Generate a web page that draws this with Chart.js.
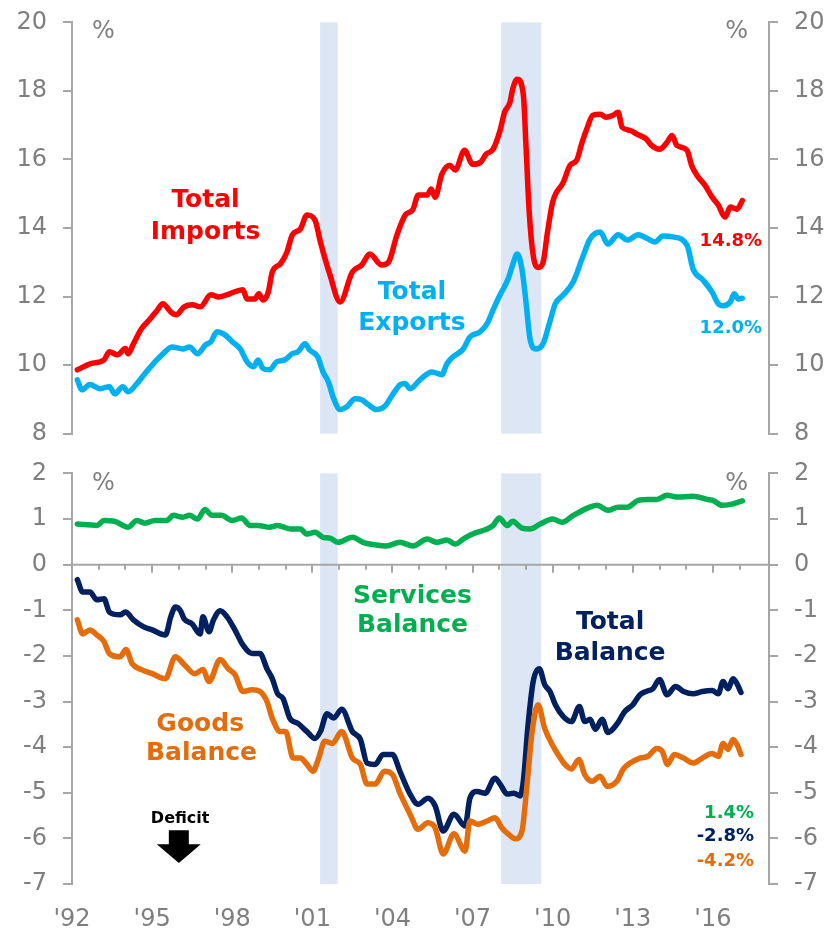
<!DOCTYPE html>
<html>
<head>
<meta charset="utf-8">
<script src="https://cdn.jsdelivr.net/npm/chart.js@4.4.0/dist/chart.umd.min.js"></script>
<style>
  html, body { margin: 0; padding: 0; background: #fff; overflow: hidden; }
  #wrap { position: relative; width: 827px; height: 928px; overflow: hidden; }
  #topChart { position: absolute; left: 0; top: -8px; }
  #botChart { position: absolute; left: 0; top: 443px; }
</style>
</head>
<body>
<div id="wrap">
  <canvas id="topChart" width="827" height="472"></canvas>
  <canvas id="botChart" width="827" height="486"></canvas>
</div>
<script>
// share of GDP, %, [year, value]
const imports = [[1992.2,9.86],[1992.7,10.04],[1993.2,10.15],[1993.4,10.39],[1993.7,10.3],[1994.0,10.48],[1994.1,10.33],[1994.3,10.62],[1994.6,11.06],[1994.9,11.32],[1995.2,11.61],[1995.4,11.79],[1995.7,11.55],[1995.9,11.47],[1996.2,11.7],[1996.5,11.76],[1996.8,11.7],[1997.2,12.05],[1997.5,11.99],[1997.9,12.08],[1998.4,12.2],[1998.55,11.93],[1998.85,11.93],[1999.0,12.08],[1999.15,11.9],[1999.35,12.13],[1999.5,12.72],[1999.8,12.95],[2000.05,13.3],[2000.25,13.8],[2000.55,13.97],[2000.8,14.38],[2001.1,14.23],[2001.3,13.6],[2001.66,12.63],[2002.04,11.84],[2002.5,12.72],[2002.85,12.92],[2003.15,13.24],[2003.6,12.92],[2003.85,13.0],[2004.17,13.8],[2004.5,14.4],[2004.75,14.52],[2004.97,14.96],[2005.3,14.96],[2005.45,15.14],[2005.6,14.9],[2005.85,15.57],[2006.15,15.83],[2006.35,15.69],[2006.7,16.27],[2007.0,15.86],[2007.3,15.92],[2007.5,16.15],[2007.77,16.3],[2008.03,16.85],[2008.2,17.38],[2008.4,17.67],[2008.5,18.05],[2008.67,18.34],[2008.9,17.9],[2009.0,16.4],[2009.12,14.47],[2009.27,13.2],[2009.45,12.85],[2009.64,13.0],[2009.8,13.85],[2010.0,14.76],[2010.4,15.34],[2010.65,15.83],[2010.9,15.98],[2011.1,16.5],[2011.3,16.94],[2011.5,17.29],[2011.78,17.32],[2012.0,17.23],[2012.26,17.29],[2012.45,17.38],[2012.6,16.94],[2012.9,16.85],[2013.15,16.74],[2013.5,16.6],[2013.7,16.41],[2014.0,16.3],[2014.28,16.5],[2014.47,16.7],[2014.65,16.41],[2015.03,16.27],[2015.2,15.83],[2015.4,15.54],[2015.7,15.25],[2015.97,14.9],[2016.2,14.67],[2016.46,14.32],[2016.65,14.61],[2016.9,14.55],[2017.1,14.8]];
const exports_ = [[1992.2,9.57],[1992.37,9.28],[1992.67,9.43],[1993.05,9.31],[1993.4,9.37],[1993.6,9.16],[1993.9,9.37],[1994.1,9.22],[1994.43,9.46],[1994.73,9.75],[1995.0,10.0],[1995.37,10.3],[1995.74,10.53],[1996.15,10.47],[1996.4,10.53],[1996.7,10.33],[1997.0,10.59],[1997.2,10.68],[1997.43,10.97],[1997.73,10.88],[1998.0,10.68],[1998.3,10.47],[1998.55,10.1],[1998.8,9.95],[1998.97,10.15],[1999.15,9.9],[1999.4,9.86],[1999.67,10.1],[1999.97,10.15],[2000.24,10.33],[2000.46,10.39],[2000.73,10.62],[2000.9,10.44],[2001.2,10.24],[2001.4,9.8],[2001.6,9.51],[2001.8,9.02],[2002.04,8.7],[2002.3,8.79],[2002.6,9.02],[2002.85,8.99],[2003.1,8.84],[2003.4,8.7],[2003.7,8.79],[2004.0,9.13],[2004.3,9.43],[2004.47,9.46],[2004.66,9.31],[2005.03,9.57],[2005.48,9.8],[2005.85,9.72],[2006.04,10.04],[2006.27,10.24],[2006.65,10.47],[2006.9,10.82],[2007.28,10.97],[2007.54,11.2],[2007.77,11.61],[2008.03,12.05],[2008.33,12.51],[2008.5,12.92],[2008.67,13.24],[2008.85,12.8],[2009.0,11.84],[2009.15,10.77],[2009.38,10.47],[2009.64,10.62],[2009.87,11.2],[2010.1,11.79],[2010.4,12.05],[2010.77,12.43],[2011.1,13.1],[2011.4,13.68],[2011.78,13.88],[2012.07,13.53],[2012.45,13.8],[2012.8,13.65],[2013.2,13.8],[2013.5,13.71],[2013.83,13.59],[2014.13,13.77],[2014.5,13.74],[2015.03,13.5],[2015.26,12.8],[2015.63,12.48],[2015.97,12.13],[2016.2,11.79],[2016.38,11.73],[2016.65,11.84],[2016.8,12.08],[2016.95,11.93],[2017.1,11.95]];
const services = [[1992.2,0.89],[1992.93,0.86],[1993.2,0.97],[1993.6,0.95],[1994.1,0.82],[1994.43,0.97],[1994.73,0.91],[1995.1,0.97],[1995.55,0.97],[1995.8,1.08],[1996.15,1.04],[1996.4,1.08],[1996.7,1.0],[1996.98,1.21],[1997.24,1.08],[1997.6,1.08],[1998.0,0.97],[1998.35,1.02],[1998.67,0.86],[1998.97,0.86],[1999.4,0.82],[1999.7,0.86],[2000.2,0.78],[2000.55,0.78],[2000.8,0.67],[2001.1,0.71],[2001.4,0.6],[2001.66,0.58],[2001.97,0.49],[2002.5,0.6],[2002.9,0.49],[2003.4,0.43],[2003.77,0.41],[2004.28,0.49],[2004.77,0.41],[2005.3,0.56],[2005.67,0.49],[2006.04,0.54],[2006.35,0.45],[2006.65,0.56],[2007.0,0.67],[2007.54,0.78],[2007.77,0.86],[2008.0,1.02],[2008.3,0.86],[2008.5,0.95],[2008.85,0.8],[2009.15,0.78],[2009.53,0.89],[2010.0,1.0],[2010.35,0.93],[2010.77,1.08],[2011.3,1.24],[2011.66,1.3],[2012.07,1.19],[2012.45,1.26],[2012.8,1.26],[2013.2,1.41],[2013.57,1.43],[2013.9,1.43],[2014.28,1.52],[2014.65,1.48],[2015.26,1.5],[2015.78,1.43],[2016.0,1.41],[2016.35,1.3],[2016.65,1.32],[2016.95,1.37],[2017.1,1.4]];
const totalBal = [[1992.2,-0.33],[1992.4,-0.6],[1992.67,-0.6],[1992.93,-0.77],[1993.2,-0.75],[1993.4,-1.04],[1993.8,-1.1],[1994.0,-1.04],[1994.3,-1.21],[1994.67,-1.36],[1995.0,-1.43],[1995.5,-1.54],[1995.7,-1.14],[1995.87,-0.93],[1996.05,-1.0],[1996.2,-1.19],[1996.5,-1.3],[1996.8,-1.52],[1996.9,-1.14],[1997.13,-1.47],[1997.3,-1.21],[1997.55,-1.01],[1997.8,-1.14],[1998.1,-1.43],[1998.4,-1.76],[1998.74,-1.95],[1999.04,-1.95],[1999.3,-2.28],[1999.5,-2.5],[1999.7,-2.83],[1999.9,-2.93],[2000.16,-3.37],[2000.46,-3.48],[2000.8,-3.66],[2001.1,-3.81],[2001.3,-3.66],[2001.55,-3.27],[2001.8,-3.36],[2002.1,-3.17],[2002.5,-3.66],[2002.8,-3.83],[2003.05,-4.35],[2003.35,-4.38],[2003.65,-4.16],[2004.0,-4.16],[2004.28,-4.53],[2004.66,-5.03],[2004.96,-5.25],[2005.33,-5.12],[2005.6,-5.29],[2005.9,-5.84],[2006.3,-5.47],[2006.72,-5.73],[2006.9,-5.12],[2007.17,-4.97],[2007.47,-5.01],[2007.84,-4.68],[2008.03,-4.81],[2008.3,-5.03],[2008.55,-5.01],[2008.78,-5.07],[2008.9,-4.75],[2009.08,-3.5],[2009.27,-2.56],[2009.5,-2.28],[2009.7,-2.63],[2009.9,-2.78],[2010.1,-3.07],[2010.4,-3.33],[2010.7,-3.44],[2011.0,-3.11],[2011.2,-3.44],[2011.4,-3.39],[2011.6,-3.61],[2011.85,-3.39],[2012.07,-3.68],[2012.4,-3.5],[2012.7,-3.22],[2013.0,-3.07],[2013.27,-2.85],[2013.5,-2.78],[2013.75,-2.72],[2014.0,-2.52],[2014.28,-2.85],[2014.6,-2.67],[2014.9,-2.78],[2015.26,-2.83],[2015.6,-2.78],[2015.97,-2.76],[2016.2,-2.83],[2016.38,-2.56],[2016.57,-2.72],[2016.75,-2.5],[2016.9,-2.61],[2017.05,-2.8]];
const goodsBal = [[1992.2,-1.21],[1992.4,-1.52],[1992.67,-1.43],[1992.93,-1.54],[1993.2,-1.69],[1993.4,-1.95],[1993.8,-2.02],[1994.02,-1.86],[1994.25,-2.17],[1994.6,-2.3],[1995.0,-2.39],[1995.5,-2.5],[1995.87,-2.02],[1996.2,-2.19],[1996.6,-2.39],[1996.9,-2.3],[1997.13,-2.56],[1997.55,-2.08],[1997.85,-2.28],[1998.1,-2.41],[1998.4,-2.78],[1998.74,-2.74],[1999.04,-2.78],[1999.3,-3.0],[1999.5,-3.37],[1999.8,-3.66],[2000.0,-3.66],[2000.28,-4.24],[2000.55,-4.24],[2000.8,-4.38],[2001.03,-4.53],[2001.22,-4.27],[2001.47,-3.87],[2001.75,-3.92],[2002.1,-3.66],[2002.5,-4.24],[2002.8,-4.38],[2003.05,-4.81],[2003.35,-4.81],[2003.7,-4.53],[2004.0,-4.6],[2004.28,-5.01],[2004.66,-5.47],[2004.96,-5.8],[2005.33,-5.66],[2005.6,-5.77],[2005.9,-6.34],[2006.3,-5.9],[2006.72,-6.28],[2006.9,-5.62],[2007.2,-5.69],[2007.54,-5.62],[2007.84,-5.55],[2008.1,-5.77],[2008.33,-5.9],[2008.6,-6.01],[2008.85,-5.84],[2009.04,-4.81],[2009.23,-3.66],[2009.45,-3.07],[2009.7,-3.59],[2009.98,-3.94],[2010.2,-4.16],[2010.46,-4.38],[2010.7,-4.48],[2010.98,-4.27],[2011.2,-4.6],[2011.48,-4.75],[2011.78,-4.64],[2012.04,-4.86],[2012.4,-4.75],[2012.64,-4.48],[2012.9,-4.35],[2013.27,-4.24],[2013.57,-4.2],[2013.9,-4.03],[2014.1,-4.09],[2014.3,-4.38],[2014.55,-4.16],[2014.9,-4.24],[2015.26,-4.35],[2015.6,-4.24],[2015.97,-4.14],[2016.2,-4.2],[2016.38,-3.92],[2016.57,-4.05],[2016.75,-3.83],[2016.9,-3.94],[2017.05,-4.16]];

// recession bands [start, end]
const recessions = [[2001.29, 2001.95], [2008.07, 2009.57]];

const X_MIN = 1992, X_MAX = 2018.1;
const FONT = 'DejaVu Sans';
const GRAY = '#7F7F7F';
const AXIS = '#A6A6A6';
const RED = '#FF0000', BLUE = '#00B0F0', GREEN = '#00B050', NAVY = '#002060', ORANGE = '#E46C0A';

const toXY = arr => arr.map(p => ({ x: p[0], y: p[1] }));

function line(data, color) {
  return {
    data: toXY(data), borderColor: color, borderWidth: 5.5, pointRadius: 0,
    cubicInterpolationMode: 'monotone', borderCapStyle: 'round', borderJoinStyle: 'round', fill: false
  };
}

function yAxis(pos, min, max, step, width) {
  return {
    type: 'linear', position: pos, min: min, max: max,
    ticks: { stepSize: step, color: GRAY, font: { family: FONT, size: 24 }, padding: 16 },
    grid: { drawOnChartArea: false, drawTicks: true, tickLength: 9, color: AXIS, lineWidth: 2 },
    border: { display: true, color: AXIS, width: 2 },
    afterFit(s) { s.width = width; }
  };
}

const deco = {
  id: 'deco',
  beforeDatasetsDraw(chart, args, opts) {
    const { ctx, chartArea: a, scales: { x, y } } = chart;
    ctx.save();
    ctx.fillStyle = '#DCE6F4';
    recessions.forEach(r => {
      const x0 = x.getPixelForValue(r[0]), x1 = x.getPixelForValue(r[1]);
      ctx.fillRect(x0, a.top, x1 - x0, a.bottom - a.top);
    });
    if (opts.zeroLine) {
      const y0 = y.getPixelForValue(0);
      ctx.strokeStyle = AXIS;
      ctx.lineWidth = 2;
      ctx.beginPath(); ctx.moveTo(a.left, y0); ctx.lineTo(a.right, y0); ctx.stroke();
      for (let yr = 1993; yr <= 2017; yr++) {
        const px = Math.round(x.getPixelForValue(yr));
        const len = yr % 3 === 0 ? 8 : 5;
        ctx.beginPath(); ctx.moveTo(px, y0); ctx.lineTo(px, y0 + len); ctx.stroke();
      }
    }
    ctx.restore();
  },
  afterDatasetsDraw(chart, args, opts) {
    const { ctx, scales: { x, y } } = chart;
    ctx.save();
    (opts.labels || []).forEach(l => {
      ctx.font = (l.bold === false ? '' : 'bold ') + l.size + 'px "' + FONT + '"';
      ctx.fillStyle = l.color;
      ctx.textAlign = l.align || 'center';
      ctx.textBaseline = l.base || 'alphabetic';
      ctx.fillText(l.text, x.getPixelForValue(l.x), y.getPixelForValue(l.y));
    });
    if (opts.arrow) {
      const ar = opts.arrow;
      const cx = x.getPixelForValue(ar.x);
      const yt = y.getPixelForValue(ar.top), yb = y.getPixelForValue(ar.neck), yp = y.getPixelForValue(ar.tip);
      ctx.fillStyle = '#000';
      ctx.beginPath();
      ctx.moveTo(cx - 10, yt); ctx.lineTo(cx + 10, yt); ctx.lineTo(cx + 10, yb);
      ctx.lineTo(cx + 22, yb); ctx.lineTo(cx, yp); ctx.lineTo(cx - 22, yb);
      ctx.lineTo(cx - 10, yb); ctx.closePath(); ctx.fill();
    }
    ctx.restore();
  }
};

new Chart(document.getElementById('topChart'), {
  type: 'line',
  data: { datasets: [line(imports, RED), line(exports_, BLUE)] },
  options: {
    responsive: false, animation: false,
    layout: { padding: { top: 12, bottom: 4, left: 0, right: 0 } },
    plugins: {
      legend: { display: false }, tooltip: { enabled: false },
      deco: {
        labels: [
          { text: 'Total', x: 1997.0, y: 14.61, color: RED, size: 25 },
          { text: 'Imports', x: 1997.0, y: 13.68, color: RED, size: 25 },
          { text: 'Total', x: 2004.73, y: 11.93, color: BLUE, size: 25 },
          { text: 'Exports', x: 2004.73, y: 11.03, color: BLUE, size: 25 },
          { text: '14.8%', x: 2017.84, y: 13.47, color: RED, size: 18, align: 'right' },
          { text: '12.0%', x: 2017.84, y: 10.94, color: BLUE, size: 18, align: 'right' },
          { text: '%', x: 1992.75, y: 19.74, color: GRAY, size: 24, bold: false, align: 'left', base: 'middle' },
          { text: '%', x: 2017.32, y: 19.74, color: GRAY, size: 24, bold: false, align: 'right', base: 'middle' }
        ]
      }
    },
    scales: {
      x: { type: 'linear', min: X_MIN, max: X_MAX, display: false },
      y: yAxis('left', 8, 20, 2, 72),
      y2: yAxis('right', 8, 20, 2, 58)
    }
  },
  plugins: [deco]
});

new Chart(document.getElementById('botChart'), {
  type: 'line',
  data: { datasets: [line(services, GREEN), line(goodsBal, ORANGE), line(totalBal, NAVY)] },
  options: {
    responsive: false, animation: false,
    layout: { padding: { top: 14, bottom: 0, left: 0, right: 0 } },
    plugins: {
      legend: { display: false }, tooltip: { enabled: false },
      deco: {
        zeroLine: true,
        labels: [
          { text: 'Services', x: 2004.75, y: -0.84, color: GREEN, size: 25 },
          { text: 'Balance', x: 2004.75, y: -1.47, color: GREEN, size: 25 },
          { text: 'Total', x: 2012.15, y: -1.41, color: NAVY, size: 25 },
          { text: 'Balance', x: 2012.15, y: -2.08, color: NAVY, size: 25 },
          { text: 'Goods', x: 1996.8, y: -3.64, color: ORANGE, size: 25 },
          { text: 'Balance', x: 1996.85, y: -4.29, color: ORANGE, size: 25 },
          { text: '1.4%', x: 2017.54, y: -5.56, color: GREEN, size: 18, align: 'right' },
          { text: '-2.8%', x: 2017.54, y: -6.06, color: NAVY, size: 18, align: 'right' },
          { text: '-4.2%', x: 2017.54, y: -6.61, color: ORANGE, size: 18, align: 'right' },
          { text: 'Deficit', x: 1996.05, y: -5.67, color: '#000', size: 16 },
          { text: '%', x: 1992.75, y: 1.78, color: GRAY, size: 24, bold: false, align: 'left', base: 'middle' },
          { text: '%', x: 2017.32, y: 1.78, color: GRAY, size: 24, bold: false, align: 'right', base: 'middle' }
        ],
        arrow: { x: 1996.0, top: -5.82, neck: -6.13, tip: -6.54 }
      }
    },
    scales: {
      x: {
        type: 'linear', min: X_MIN, max: X_MAX, position: 'bottom',
        ticks: {
          stepSize: 1, autoSkip: false, maxRotation: 0, color: GRAY,
          font: { family: FONT, size: 24 }, padding: 21,
          callback: v => (Number.isInteger(v) && v % 3 === 0 && v <= 2016) ? "'" + String(v).slice(2) : ''
        },
        grid: { display: false, drawTicks: false },
        border: { display: false },
        afterFit(s) { s.height = 45; }
      },
      y: yAxis('left', -7, 2, 1, 72),
      y2: yAxis('right', -7, 2, 1, 58)
    }
  },
  plugins: [deco]
});
</script>
</body>
</html>
